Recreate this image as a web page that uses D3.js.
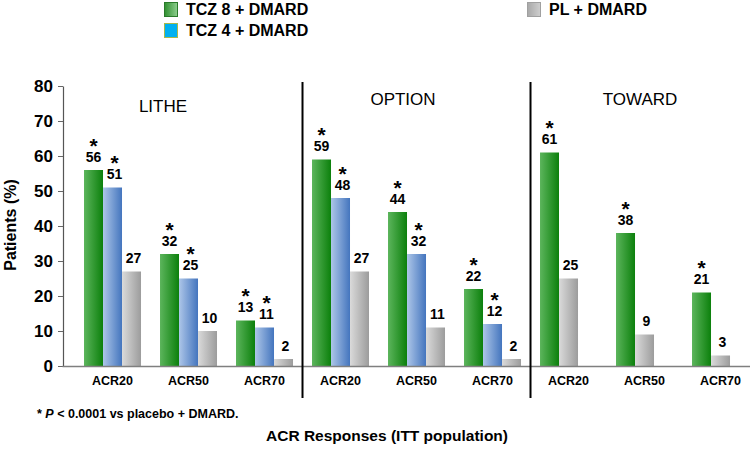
<!DOCTYPE html>
<html>
<head>
<meta charset="utf-8">
<script src="https://cdn.jsdelivr.net/npm/d3@7"></script>
<style>
  html, body { margin: 0; padding: 0; background: #fff; }
  svg { display: block; }
</style>
</head>
<body>
<script>
// ---------------- data ----------------
const studies = ["LITHE", "OPTION", "TOWARD"];
const measures = ["ACR20", "ACR50", "ACR70"];
const seriesNames = ["TCZ 8 + DMARD", "TCZ 4 + DMARD", "PL + DMARD"];
const seriesKeys = ["tcz8", "tcz4", "pl"];
// values per study, in order ACR20, ACR50, ACR70
const tcz8Values = [56, 32, 13, 59, 44, 22, 61, 38, 21];
const tcz4Values = [51, 25, 11, 48, 32, 12, null, null, null];
const plValues   = [27, 10, 2, 27, 11, 2, 25, 9, 3];
const significantSeries = ["tcz8", "tcz4"]; // * P < 0.0001 vs placebo + DMARD
const yTicks = [0, 10, 20, 30, 40, 50, 60, 70, 80];
const yTitle = "Patients (%)";
const xTitle = "ACR Responses (ITT population)";

// ---------------- layout ----------------
const W = 750, H = 452;
const svg = d3.select("body").append("svg").attr("width", W).attr("height", H);
const defs = svg.append("defs");
function grad(id, c1, c2) {
  const g = defs.append("linearGradient").attr("id", id)
    .attr("x1", "0%").attr("x2", "100%").attr("y1", "0%").attr("y2", "0%");
  g.append("stop").attr("offset", "0%").attr("stop-color", c1);
  g.append("stop").attr("offset", "100%").attr("stop-color", c2);
}
grad("g-tcz8", "#5cb55c", "#0c800c");
grad("g-tcz4", "#adc6e8", "#4475be");
grad("g-pl", "#dadada", "#9c9c9c");
grad("g-leg8", "#2f8f2f", "#8fcf8f");
grad("g-legpl", "#a8a8a8", "#cfcfcf");
const fills = { tcz8: "url(#g-tcz8)", tcz4: "url(#g-tcz4)", pl: "url(#g-pl)" };

const slots = [];
studies.forEach(s => measures.forEach(m => slots.push(s + "|" + m)));

const x = d3.scaleBand().domain(slots).range([62, 750])
  .paddingInner(0.25).paddingOuter(0.1513).align(0.957);
const y = d3.scaleLinear().domain([0, 80]).range([366, 86]);
const unit = x.bandwidth() / 3;

const FONT = "'Liberation Sans', Arial, sans-serif";

// build rows
const valuesByKey = { tcz8: tcz8Values, tcz4: tcz4Values, pl: plValues };
const bars = [];
slots.forEach((slot, i) => {
  const present = seriesKeys.filter(k => valuesByKey[k][i] != null);
  const sub = d3.scaleBand().domain(present).range([0, present.length * unit]);
  present.forEach(k => {
    bars.push({ slot, key: k, value: valuesByKey[k][i],
      x0: x(slot) + sub(k), w: sub.bandwidth(),
      star: significantSeries.includes(k) });
  });
});

// y axis
const yAxis = svg.append("g").attr("transform", "translate(63,0)")
  .call(d3.axisLeft(y).tickValues(yTicks).tickSize(5).tickSizeOuter(0).tickPadding(5));
yAxis.select(".domain").attr("stroke", "#555").attr("stroke-width", 1.2);
yAxis.selectAll(".tick line").attr("stroke", "#666");
yAxis.selectAll(".tick text").attr("font-family", FONT).attr("font-weight", "bold")
  .attr("font-size", 17).attr("fill", "#000");

// bars
svg.append("g").selectAll("rect").data(bars).join("rect")
  .attr("x", d => d.x0).attr("width", d => d.w)
  .attr("y", d => y(d.value)).attr("height", d => y(0) - y(d.value))
  .attr("fill", d => fills[d.key]);

// x axis
const xAxis = svg.append("g").attr("transform", "translate(0,366)")
  .call(d3.axisBottom(x).tickSize(0).tickSizeOuter(0).tickPadding(10)
    .tickFormat(d => d.split("|")[1]));
xAxis.select(".domain").attr("stroke", "#7f7f7f").attr("stroke-width", 1.5);
xAxis.selectAll(".tick text").attr("font-family", FONT).attr("font-weight", "bold")
  .attr("font-size", 12.5).attr("fill", "#000");

// value labels and significance asterisks
const lab = svg.append("g").attr("font-family", FONT).attr("font-weight", "bold")
  .attr("text-anchor", "middle").attr("fill", "#000");
const lx = d => d.x0 + d.w / 2 + (d.key === "tcz8" ? 0 : 2);
lab.selectAll("text.v").data(bars).join("text").attr("class", "v")
  .attr("x", lx).attr("y", d => y(d.value) - 8.5)
  .attr("font-size", 14).text(d => d.value);
lab.selectAll("text.s").data(bars.filter(d => d.star)).join("text").attr("class", "s")
  .attr("x", lx).attr("y", d => y(d.value) - 8.5 - 9)
  .attr("font-size", 21).text("*");

// separators between studies
const sepX = [];
for (let i = 1; i < studies.length; i++) {
  const prev = x(studies[i - 1] + "|" + measures[measures.length - 1]) + x.bandwidth();
  const next = x(studies[i] + "|" + measures[0]);
  sepX.push((prev + next) / 2);
}
svg.append("g").selectAll("line").data(sepX).join("line")
  .attr("x1", d => d).attr("x2", d => d).attr("y1", 82).attr("y2", 398)
  .attr("stroke", "#000").attr("stroke-width", 2);

// study titles
const titleOffsets = [79, 91, 100];
const titleBaselines = [112, 105, 105];
svg.append("g").selectAll("text").data(studies).join("text")
  .attr("x", (d, i) => x(d + "|" + measures[0]) + titleOffsets[i])
  .attr("y", (d, i) => titleBaselines[i])
  .attr("text-anchor", "middle").attr("font-family", FONT)
  .attr("font-size", 17).attr("fill", "#000").text(d => d);

// y title
svg.append("text").attr("transform", "translate(16,225) rotate(-90)")
  .attr("text-anchor", "middle").attr("font-family", FONT).attr("font-weight", "bold")
  .attr("font-size", 16).attr("fill", "#000").text(yTitle);

// x title
svg.append("text").attr("x", 387).attr("y", 441).attr("text-anchor", "middle")
  .attr("font-family", FONT).attr("font-weight", "bold").attr("font-size", 15.5)
  .attr("fill", "#000").text(xTitle);

// footnote
const fn = svg.append("text").attr("x", 37).attr("y", 418)
  .attr("font-family", FONT).attr("font-weight", "bold").attr("font-size", 12.5).attr("fill", "#000");
fn.append("tspan").text("* ");
fn.append("tspan").attr("font-style", "italic").text("P");
fn.append("tspan").text(" < 0.0001 vs placebo + DMARD.");

// legend
const legendItems = [
  { name: seriesNames[0], x: 164, y: 2, fill: "url(#g-leg8)", stroke: "#2a7a2a" },
  { name: seriesNames[1], x: 164, y: 23, fill: "#00b0f0", stroke: "#a8b84a" },
  { name: seriesNames[2], x: 527, y: 2, fill: "url(#g-legpl)", stroke: "#a0a0a0" }
];
const lg = svg.append("g").selectAll("g").data(legendItems).join("g")
  .attr("transform", d => `translate(${d.x},${d.y})`);
lg.append("rect").attr("x", 0.5).attr("y", 0.5).attr("width", 13).attr("height", 14)
  .attr("fill", d => d.fill).attr("stroke", d => d.stroke).attr("stroke-width", 1);
lg.append("text").attr("x", 22).attr("y", 13).attr("font-family", FONT)
  .attr("font-weight", "bold").attr("font-size", 16).attr("fill", "#000").text(d => d.name);
</script>
</body>
</html>
